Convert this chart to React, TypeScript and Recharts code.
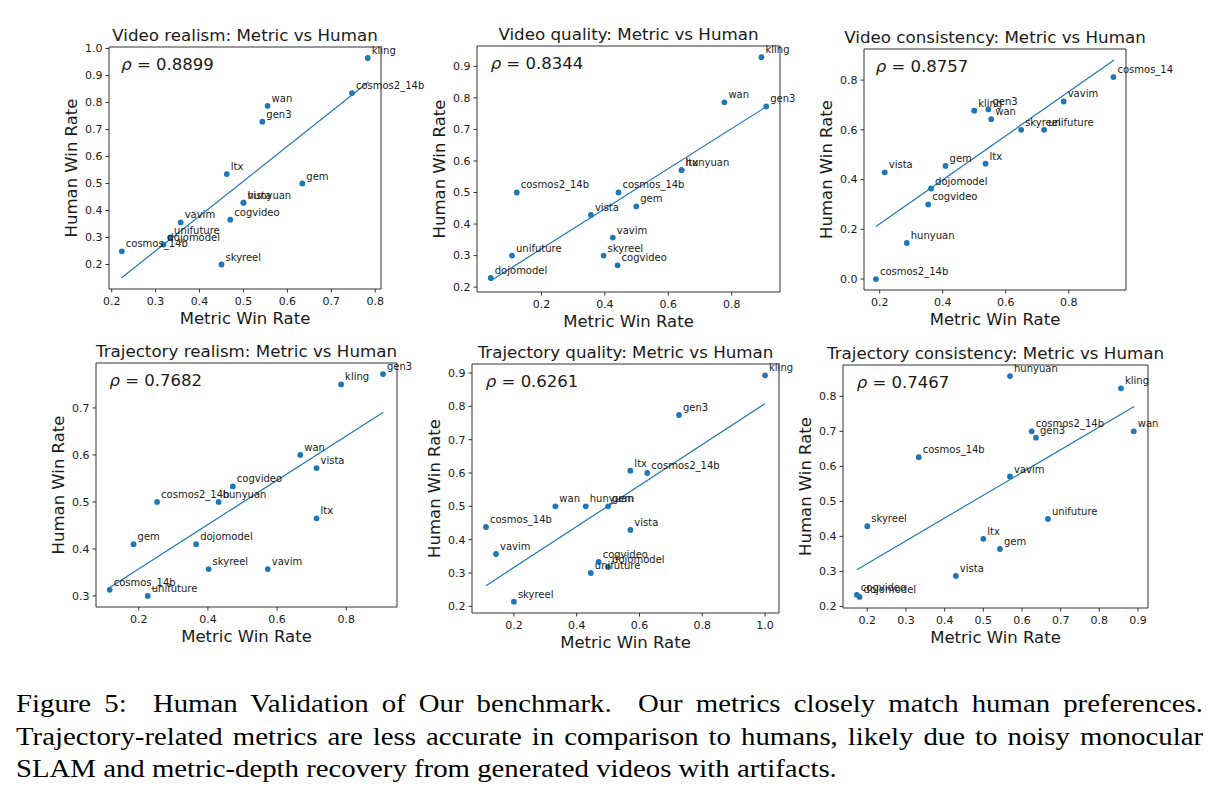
import React from "react";
import {
  ReferenceArea,
  ReferenceLine,
  Scatter,
  ScatterChart,
  XAxis,
  YAxis,
} from "recharts";

const FONT = "'DejaVu Sans', sans-serif";
const BLUE = "#1f77b4";
const INK = "#1a1a1a";

// models, same order in every array below
const models = [
  "cogvideo", "cosmos2_14b", "cosmos_14b", "dojomodel", "gem", "gen3", "hunyuan",
  "kling", "ltx", "skyreel", "unifuture", "vavim", "vista", "wan",
];

// video realism
const vrMetric = [0.47, 0.747, 0.223, 0.318, 0.634, 0.543, 0.5, 0.783, 0.462, 0.45, 0.333, 0.357, 0.5, 0.555];
const vrHuman = [0.366, 0.835, 0.249, 0.274, 0.5, 0.729, 0.429, 0.965, 0.535, 0.2, 0.3, 0.356, 0.429, 0.788];
const vrFit = [0.222, 0.15, 0.785, 0.877];

// video quality
const vqMetric = [0.44, 0.122, 0.443, 0.04, 0.499, 0.909, 0.642, 0.894, 0.642, 0.396, 0.107, 0.425, 0.356, 0.777];
const vqHuman = [0.269, 0.5, 0.5, 0.229, 0.456, 0.773, 0.571, 0.929, 0.571, 0.3, 0.3, 0.357, 0.429, 0.786];
const vqFit = [0.04, 0.22, 0.909, 0.772];

// video consistency
const vcMetric = [0.354, 0.188, 0.942, 0.363, 0.409, 0.545, 0.286, 0.5, 0.536, 0.649, 0.722, 0.784, 0.216, 0.554];
const vcHuman = [0.3, 0.0, 0.812, 0.364, 0.455, 0.682, 0.145, 0.677, 0.464, 0.6, 0.6, 0.714, 0.429, 0.643];
const vcFit = [0.188, 0.211, 0.944, 0.881];

// trajectory realism
const trMetric = [0.472, 0.253, 0.116, 0.366, 0.185, 0.906, 0.431, 0.785, 0.714, 0.402, 0.226, 0.573, 0.714, 0.667];
const trHuman = [0.533, 0.5, 0.313, 0.41, 0.41, 0.772, 0.5, 0.75, 0.465, 0.357, 0.3, 0.357, 0.572, 0.6];
const trFit = [0.116, 0.318, 0.907, 0.691];

// trajectory quality
const tqMetric = [0.47, 0.625, 0.111, 0.5, 0.5, 0.726, 0.429, 1.0, 0.571, 0.2, 0.445, 0.143, 0.571, 0.332];
const tqHuman = [0.333, 0.6, 0.438, 0.318, 0.5, 0.774, 0.5, 0.893, 0.607, 0.214, 0.3, 0.357, 0.429, 0.5];
const tqFit = [0.111, 0.262, 1.0, 0.808];

// trajectory consistency
const tcMetric = [0.173, 0.625, 0.333, 0.18, 0.543, 0.636, 0.569, 0.856, 0.5, 0.2, 0.667, 0.569, 0.429, 0.889];
const tcHuman = [0.233, 0.7, 0.626, 0.227, 0.364, 0.682, 0.858, 0.823, 0.393, 0.429, 0.45, 0.571, 0.287, 0.7];
const tcFit = [0.173, 0.305, 0.89, 0.771];

const rhoValues = ["0.8899", "0.8344", "0.8757", "0.7682", "0.6261", "0.7467"];
const titles = [
  "Video realism: Metric vs Human",
  "Video quality: Metric vs Human",
  "Video consistency: Metric vs Human",
  "Trajectory realism: Metric vs Human",
  "Trajectory quality: Metric vs Human",
  "Trajectory consistency: Metric vs Human",
];

const xTicks = [
  [0.2, 0.3, 0.4, 0.5, 0.6, 0.7, 0.8],
  [0.2, 0.4, 0.6, 0.8],
  [0.2, 0.4, 0.6, 0.8],
  [0.2, 0.4, 0.6, 0.8],
  [0.2, 0.4, 0.6, 0.8, 1.0],
  [0.2, 0.3, 0.4, 0.5, 0.6, 0.7, 0.8, 0.9],
];
const yTicks = [
  [0.2, 0.3, 0.4, 0.5, 0.6, 0.7, 0.8, 0.9, 1.0],
  [0.2, 0.3, 0.4, 0.5, 0.6, 0.7, 0.8, 0.9],
  [0.0, 0.2, 0.4, 0.6, 0.8],
  [0.3, 0.4, 0.5, 0.6, 0.7],
  [0.2, 0.3, 0.4, 0.5, 0.6, 0.7, 0.8, 0.9],
  [0.2, 0.3, 0.4, 0.5, 0.6, 0.7, 0.8],
];

const captionLines = [
  "Figure 5:  Human Validation of Our benchmark.  Our metrics closely match human preferences.",
  "Trajectory-related metrics are less accurate in comparison to humans, likely due to noisy monocular",
  "SLAM and metric-depth recovery from generated videos with artifacts.",
];

// plot box and crop of each panel on the page
const layout = [
  { box: { l: 109, t: 47, w: 272, h: 242 }, crop: { l: 20, r: 431 } },
  { box: { l: 477, t: 46, w: 303, h: 246 }, crop: { l: 430, r: 815 } },
  { box: { l: 864, t: 49, w: 262, h: 241 }, crop: { l: 815, r: 1173 } },
  { box: { l: 96, t: 363, w: 301, h: 244 }, crop: { l: 20, r: 421 } },
  { box: { l: 472, t: 364, w: 307, h: 249 }, crop: { l: 422, r: 797 } },
  { box: { l: 843, t: 365, w: 305, h: 243 }, crop: { l: 797, r: 1219 } },
];

const series = [
  [vrMetric, vrHuman, vrFit],
  [vqMetric, vqHuman, vqFit],
  [vcMetric, vcHuman, vcFit],
  [trMetric, trHuman, trFit],
  [tqMetric, tqHuman, tqFit],
  [tcMetric, tcHuman, tcFit],
];

// matplotlib-style 5% margin around data
function pad(vals: number[]): [number, number] {
  const lo = Math.min(...vals);
  const hi = Math.max(...vals);
  const m = (hi - lo) * 0.05;
  return [lo - m, hi + m];
}

const fmt = (v: number) => v.toFixed(1);

const dot = (p: any) => <circle cx={p.cx} cy={p.cy} r={2.9} fill={BLUE} />;
const nameLabel = (p: any) => (
  <text x={p.cx + 4} y={p.cy - 4} fontSize={10} fontFamily={FONT} fill={INK}>
    {p.payload?.name ?? p.name}
  </text>
);

function Panel({ idx }: { idx: number }) {
  const { box, crop } = layout[idx];
  const [metric, human, fit] = series[idx];
  const MT = 35;
  const XH = 52;
  const yw = box.l - crop.l;
  const W = crop.r - crop.l;
  const H = MT + box.h + XH;
  const mr = W - yw - box.w;
  const data = models.map((name, i) => ({ name, x: metric[i], y: human[i] }));
  const xd = pad([...metric, fit[0], fit[2]]);
  const yd = pad([...human, fit[1], fit[3]]);
  const x0 = yw;
  const tickStyle = { fontSize: 11, fill: INK, fontFamily: FONT };

  return (
    <div style={{ position: "absolute", left: crop.l, top: box.t - MT }}>
      <ScatterChart width={W} height={H} margin={{ top: MT, right: mr, bottom: 0, left: 0 }}>
        <XAxis
          type="number"
          dataKey="x"
          domain={xd}
          ticks={xTicks[idx]}
          interval={0}
          tickFormatter={fmt}
          height={XH}
          axisLine={false}
          tickSize={3.5}
          tickMargin={5}
          tickLine={{ stroke: "#333" }}
          tick={tickStyle}
        />
        <YAxis
          type="number"
          dataKey="y"
          domain={yd}
          ticks={yTicks[idx]}
          interval={0}
          tickFormatter={fmt}
          width={yw}
          axisLine={false}
          tickSize={3.5}
          tickMargin={3}
          tickLine={{ stroke: "#333" }}
          tick={tickStyle}
        />
        <ReferenceArea
          x1={xd[0]}
          x2={xd[1]}
          y1={yd[0]}
          y2={yd[1]}
          fill="none"
          fillOpacity={0}
          stroke="#333"
          strokeWidth={1}
          ifOverflow="visible"
        />
        <ReferenceLine
          segment={[
            { x: fit[0], y: fit[1] },
            { x: fit[2], y: fit[3] },
          ]}
          stroke={BLUE}
          strokeWidth={1.2}
          ifOverflow="visible"
        />
        <Scatter data={data} isAnimationActive={false} shape={dot} />
        <Scatter data={data} isAnimationActive={false} shape={nameLabel} />
        <text
          x={x0 + box.w / 2}
          y={MT - 6.5}
          textAnchor="middle"
          fontSize={16.7}
          fontFamily={FONT}
          fill={INK}
        >
          {titles[idx]}
        </text>
        <text
          x={x0 + box.w * 0.045}
          y={MT + box.h * 0.05 + 10.5}
          fontSize={16.5}
          fontFamily={FONT}
          fill={INK}
        >
          <tspan fontStyle="italic">ρ</tspan> = {rhoValues[idx]}
        </text>
        <text
          x={x0 + box.w / 2}
          y={MT + box.h + 35}
          textAnchor="middle"
          fontSize={16.5}
          fontFamily={FONT}
          fill={INK}
        >
          Metric Win Rate
        </text>
        <text
          transform={`translate(${x0 - 32}, ${MT + box.h / 2}) rotate(-90)`}
          textAnchor="middle"
          fontSize={16.5}
          fontFamily={FONT}
          fill={INK}
        >
          Human Win Rate
        </text>
      </ScatterChart>
    </div>
  );
}

const CAPTION_STRETCH = 1.107;

export default function App() {
  return (
    <div
      style={{
        position: "absolute",
        left: 0,
        top: 0,
        width: 1219,
        height: 801,
        background: "#fff",
        overflow: "hidden",
      }}
    >
      {layout.map((_, i) => (
        <Panel key={i} idx={i} />
      ))}
      <div
        style={{
          position: "absolute",
          left: 16,
          top: 688,
          width: 1187 / CAPTION_STRETCH,
          transform: `scaleX(${CAPTION_STRETCH})`,
          transformOrigin: "left top",
          fontFamily: "'Liberation Serif', 'Times New Roman', serif",
          fontSize: 26,
          lineHeight: "32.5px",
          color: "#000",
        }}
      >
        {captionLines.map((line, i) => (
          <div
            key={i}
            style={{
              whiteSpace: "pre",
              textAlign: i < 2 ? "justify" : "left",
              textAlignLast: i < 2 ? "justify" : "left",
            }}
          >
            {line}
          </div>
        ))}
      </div>
    </div>
  );
}
